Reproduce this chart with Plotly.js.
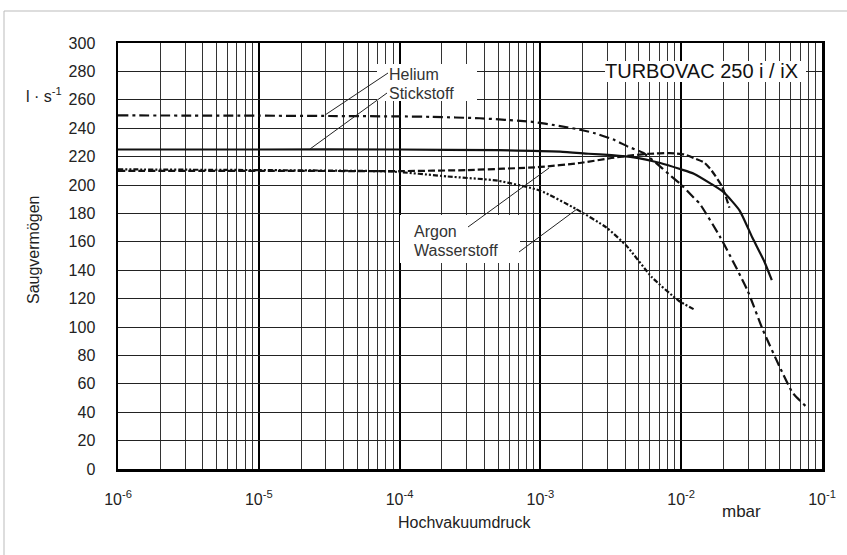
<!DOCTYPE html>
<html>
<head>
<meta charset="utf-8">
<script src="https://cdn.plot.ly/plotly-3.0.1.min.js"></script>
<style>html,body{margin:0;padding:0;background:#fff;}#chart{width:847px;height:555px;}</style>
</head>
<body>
<div id="chart"></div>
<script>
// Helium (dash-dot)
const pressureHelium = [1e-6, 1e-5, 3.16e-5, 1e-4, 1.66e-4, 3.7e-4, 8.5e-4, 1.38e-3, 1.9e-3, 2.4e-3, 3.3e-3, 4.2e-3, 5.4e-3, 7.1e-3, 8.3e-3, 9.8e-3, 1.23e-2, 1.35e-2, 1.9e-2, 2.95e-2, 3.8e-2, 5.0e-2, 6.2e-2, 7.9e-2];
const speedHelium    = [249, 248.8, 248.6, 248.3, 248, 247, 244.6, 241.5, 239, 236.6, 232, 227, 222.5, 213, 207, 201, 191, 187, 163, 126, 98, 72, 53.5, 43];
// Stickstoff (solid)
const pressureStickstoff = [1e-6, 1e-5, 1e-4, 5e-4, 1.38e-3, 2.2e-3, 3.2e-3, 4.6e-3, 7.1e-3, 1e-2, 1.23e-2, 1.62e-2, 2.0e-2, 2.6e-2, 3.2e-2, 3.9e-2, 4.4e-2];
const speedStickstoff    = [225, 225, 225, 224.5, 223.5, 222, 221, 219.5, 215.5, 211, 208, 201, 195, 182, 163, 146, 133];
// Argon (dashed)
const pressureArgon = [1e-6, 1e-5, 1e-4, 3e-4, 1e-3, 1.9e-3, 3.2e-3, 4.6e-3, 6e-3, 8.3e-3, 1.05e-2, 1.23e-2, 1.45e-2, 1.62e-2, 1.95e-2, 2.2e-2];
const speedArgon    = [210, 210, 209.8, 210.5, 212.7, 215.5, 219, 221, 222, 222.5, 221.5, 219, 216, 211, 199, 184];
// Wasserstoff (dotted)
const pressureWasserstoff = [1e-6, 1e-5, 8.7e-5, 2.2e-4, 5e-4, 1e-3, 1.8e-3, 2.95e-3, 4.1e-3, 6.2e-3, 9.6e-3, 1.23e-2];
const speedWasserstoff    = [211, 210.5, 209.5, 206, 203, 196, 183, 170, 157, 135, 118.5, 112.5];

const yTickValues = [0, 20, 40, 60, 80, 100, 120, 140, 160, 180, 200, 220, 240, 260, 280, 300];
const xTickValues = [1e-6, 1e-5, 1e-4, 1e-3, 1e-2, 1e-1];
const xTickLabels = ['10<sup>-6</sup>', '10<sup>-5</sup>', '10<sup>-4</sup>', '10<sup>-3</sup>', '10<sup>-2</sup>', '10<sup>-1</sup>'];
const decadeExponents = [-6, -5, -4, -3, -2];
const minorMultipliers = [2, 3, 4, 5, 6, 7, 8, 9];
const minorTickValues = [];
decadeExponents.forEach(e => minorMultipliers.forEach(m => minorTickValues.push(m * Math.pow(10, e))));

const FONT = 'Liberation Sans, Arial, Helvetica, sans-serif';

function trace(x, y, dash, name) {
  return {x: x, y: y, type: 'scatter', mode: 'lines', name: name,
    line: {color: '#111', width: 2.2, dash: dash, shape: 'spline', smoothing: 0.5},
    hoverinfo: 'skip', showlegend: false};
}

const data = [
  trace(pressureHelium, speedHelium, '10px,4px,3px,4px', 'Helium'),
  trace(pressureStickstoff, speedStickstoff, 'solid', 'Stickstoff'),
  trace(pressureArgon, speedArgon, '7px,3px', 'Argon'),
  trace(pressureWasserstoff, speedWasserstoff, '5px,2px,2px,2px,2px,2px', 'Wasserstoff')
];

// plot area: left 118, right 822, top 43, bottom 469 px
const L = 118, T = 43, W = 704, H = 426;
const px = v => (v - L) / W;
const py = v => (T + H - v) / H;

function whiteBox(x0, y0, x1, y1) {
  return {type: 'rect', xref: 'paper', yref: 'paper', x0: px(x0), x1: px(x1), y0: py(y1), y1: py(y0),
    fillcolor: '#fff', line: {width: 0}, layer: 'above'};
}
function leader(x0, y0, x1, y1) {
  return {type: 'line', xref: 'paper', yref: 'paper', x0: px(x0), y0: py(y0), x1: px(x1), y1: py(y1),
    line: {color: '#222', width: 1}, layer: 'above'};
}

const layout = {
  width: 847, height: 555,
  margin: {l: L, r: 847 - L - W, t: T, b: 555 - T - H},
  paper_bgcolor: '#fff', plot_bgcolor: '#fff',
  font: {family: FONT, size: 16, color: '#222'},
  xaxis: {
    type: 'log', range: [-6, -1], tickmode: 'array', tickvals: xTickValues, ticktext: xTickLabels,
    showgrid: true, gridcolor: '#000', gridwidth: 2,
    minor: {tickmode: 'array', tickvals: minorTickValues, showgrid: true, gridcolor: '#333', gridwidth: 1, ticks: ''},
    showline: true, mirror: true, linecolor: '#000', linewidth: 2.5,
    ticks: 'outside', ticklen: 14, tickcolor: 'rgba(0,0,0,0)',
    tickfont: {family: FONT, size: 16, color: '#222'}, zeroline: false
  },
  yaxis: {
    range: [0, 300], tickmode: 'array', tickvals: yTickValues, ticktext: yTickValues.map(String),
    showgrid: true, gridcolor: '#222', gridwidth: 1,
    showline: true, mirror: true, linecolor: '#000', linewidth: 2.5,
    ticks: 'outside', ticklen: 17, tickcolor: 'rgba(0,0,0,0)',
    tickfont: {family: FONT, size: 16, color: '#222'}, zeroline: false
  },
  shapes: [
    whiteBox(377, 64, 477, 101),
    whiteBox(400, 215, 520, 263),
    whiteBox(605, 61, 806, 82),
    leader(388, 73, 325, 115),
    leader(387, 93, 310, 149),
    leader(468, 227, 549, 168),
    leader(519, 252, 577, 209),
    {type: 'line', xref: 'paper', yref: 'paper', x0: px(4), x1: px(900), y0: py(11), y1: py(11), line: {color: '#bbb', width: 1}},
    {type: 'line', xref: 'paper', yref: 'paper', x0: px(4), x1: px(4), y0: py(11), y1: py(600), line: {color: '#bbb', width: 1}}
  ],
  annotations: [
    {xref: 'paper', yref: 'paper', x: px(387), y: py(75), xanchor: 'left', yanchor: 'middle', showarrow: false, text: 'Helium', font: {size: 16, color: '#333'}},
    {xref: 'paper', yref: 'paper', x: px(387), y: py(94), xanchor: 'left', yanchor: 'middle', showarrow: false, text: 'Stickstoff', font: {size: 16, color: '#333'}},
    {xref: 'paper', yref: 'paper', x: px(412), y: py(231), xanchor: 'left', yanchor: 'middle', showarrow: false, text: 'Argon', font: {size: 16, color: '#333'}},
    {xref: 'paper', yref: 'paper', x: px(412), y: py(250), xanchor: 'left', yanchor: 'middle', showarrow: false, text: 'Wasserstoff', font: {size: 16, color: '#333'}},
    {xref: 'paper', yref: 'paper', x: px(701), y: py(71), xanchor: 'center', yanchor: 'middle', showarrow: false, text: 'TURBOVAC 250 i / iX', font: {size: 20, color: '#111'}},
    {xref: 'paper', yref: 'paper', x: px(44), y: py(95), xanchor: 'center', yanchor: 'middle', showarrow: false, text: 'l · s<sup>-1</sup>', font: {size: 16, color: '#222'}},
    {xref: 'paper', yref: 'paper', x: px(33), y: py(250), xanchor: 'center', yanchor: 'middle', showarrow: false, textangle: -90, text: 'Saugvermögen', font: {size: 16, color: '#222'}},
    {xref: 'paper', yref: 'paper', x: px(741), y: py(511), xanchor: 'center', yanchor: 'middle', showarrow: false, text: 'mbar', font: {size: 17, color: '#222'}},
    {xref: 'paper', yref: 'paper', x: px(465), y: py(522), xanchor: 'center', yanchor: 'middle', showarrow: false, text: 'Hochvakuumdruck', font: {size: 16, color: '#222'}}
  ]
};

Plotly.newPlot('chart', data, layout, {staticPlot: true, displayModeBar: false});
</script>
</body>
</html>
